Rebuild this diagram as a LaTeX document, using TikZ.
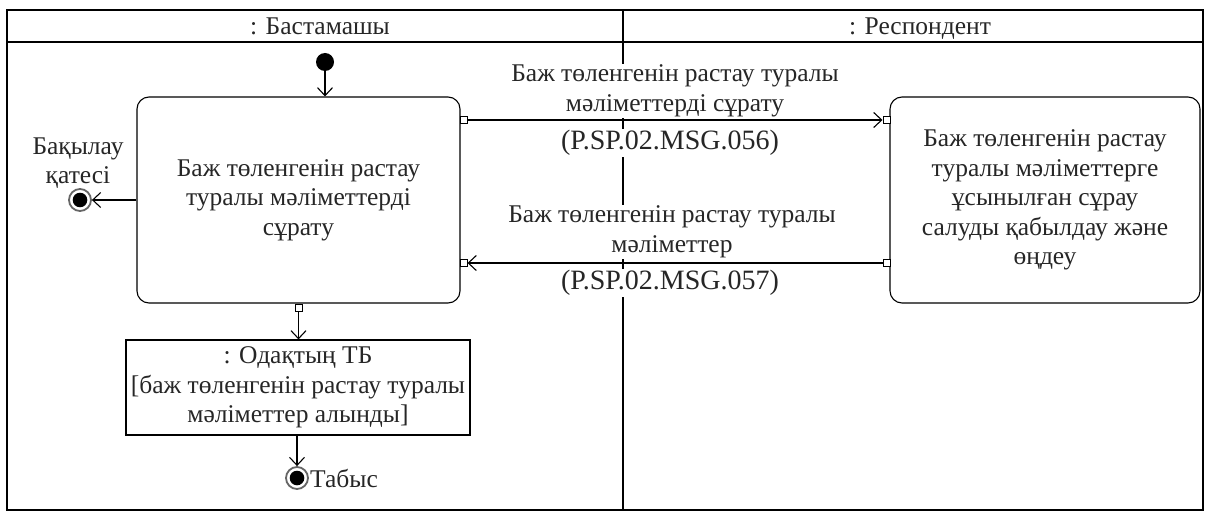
\documentclass[tikz,border=0pt]{standalone}
\usepackage{fontspec}
\setmainfont{Liberation Serif}
\usetikzlibrary{arrows.meta}
\begin{document}
\begin{tikzpicture}[x=1pt,y=-1pt,
  every node/.style={font=\fontsize{25.5}{29.5}\selectfont, text=black!85},
  act/.style={draw, rounded corners=12pt, align=center, line width=1.1pt, inner sep=0pt},
  obj/.style={draw, align=center, line width=1.1pt, inner sep=0pt},
  lbl/.style={fill=white, align=center, inner sep=1pt},
  code/.style={lbl, font=\fontsize{28}{30}\selectfont},
  port/.style={draw, fill=white, minimum size=7pt, inner sep=0pt, line width=0.9pt},
  arr/.style={-{Straight Barb[length=8pt,width=15pt]}, line width=1.1pt},
  initial/.style={circle, fill=black, minimum size=18pt, inner sep=0pt},
  finalnode/.style={circle, draw=black!60, line width=1.8pt, fill=white, minimum size=22pt, inner sep=0pt,
    path picture={\fill[black] (path picture bounding box.center) circle (7.3pt);}},
]
\useasboundingbox (0,0) rectangle (1209,513);
% frame
\draw[line width=1.1pt] (7,10) rectangle (1203,510);
\draw[line width=1.1pt] (7,42) -- (1203,42);
\draw[line width=1.1pt] (623,10) -- (623,510);
\node[anchor=base] (h1) at (320,35) {: Бастамашы};
\node[anchor=base] (h2) at (920,35) {: Респондент};
% nodes
\node[initial] (init) at (325,62) {};
\node[act, minimum width=323pt, minimum height=206pt] (req) at (298.5,200)
  {Баж төленгенін растау\\туралы мәліметтерді\\сұрату};
\node[act, minimum width=310pt, minimum height=206pt] (resp) at (1045,200)
  {Баж төленгенін растау\\туралы мәліметтерге\\ұсынылған сұрау\\салуды қабылдау және\\өңдеу};
\node[obj, minimum width=344pt, minimum height=95pt] (doc) at (298,387.5)
  {: Одақтың ТБ\\{[}баж төленгенін растау туралы\\мәліметтер алынды{]}};
\node[finalnode] (err) at (80,200) {};
\node[align=center] (errl) at (78,163) {Бақылау\\қатесі};
\node[finalnode] (succ) at (297,478) {};
\node[anchor=west, inner sep=1pt] (succl) at (succ.east) {Табыс};
% ports
\node[port] (p1) at ([xshift=3pt]req.east |- 0,120) {};
\node[port] (p2) at ([xshift=-3pt]resp.west |- 0,120) {};
\node[port] (p3) at ([xshift=-3pt]resp.west |- 0,263) {};
\node[port] (p4) at ([xshift=3pt]req.east |- 0,263) {};
\node[port] (p5) at ([yshift=-4pt]req.south) {};
% edges
\draw[arr] (init) -- (req.north -| init);
\draw[arr] (req.west |- err) -- (err);
\draw[arr] (p1) -- (p2);
\draw[arr] (p3) -- (p4);
\draw[arr] (p5) -- (doc.north -| p5);
\draw[arr] (doc.south -| succ) -- (succ);
% labels
\node[lbl] (m1) at (675,91) {Баж төленгенін растау туралы\\мәліметтерді сұрату};
\node[code] (m1c) at (670,143) {(P.SP.02.MSG.056)};
\node[lbl] (m2) at (672,232) {Баж төленгенін растау туралы\\мәліметтер};
\node[code] (m2c) at (670,283) {(P.SP.02.MSG.057)};
\end{tikzpicture}
\end{document}
